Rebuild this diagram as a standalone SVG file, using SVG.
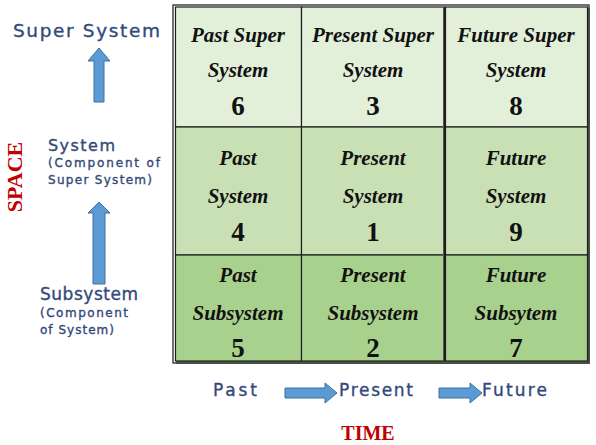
<svg xmlns="http://www.w3.org/2000/svg" width="596" height="445" viewBox="0 0 596 445">
<style>
.cell{stroke:#1e1e1e;stroke-width:1.2}
.r1{fill:#e2efd9}
.r2{fill:#c8e0b4}
.r3{fill:#a9d18e}
.sc{font-family:"Liberation Serif",serif;font-style:italic;font-weight:bold;font-size:21px;fill:#111;text-anchor:middle}
.num{font-family:"Liberation Serif",serif;font-weight:bold;font-size:27px;fill:#111;text-anchor:middle}
.lab{font-family:"DejaVu Sans","Liberation Sans",sans-serif;fill:#33497a;stroke:#33497a;stroke-width:0.35}
.red{font-family:"Liberation Serif",serif;font-weight:bold;fill:#c00000}
.arr{fill:#5b9bd5;stroke:#41719c;stroke-width:1}
</style>
<rect x="0" y="0" width="596" height="445" fill="#ffffff"/>
<rect x="176" y="8" width="414" height="356" fill="#5a6b4e"/>
<rect x="173" y="5" width="416" height="358" fill="none" stroke="#444" stroke-width="1.5"/>
<g id="cell-6"><rect class="cell r1" x="175.5" y="7" width="126" height="120"/><text class="sc" x="238" y="42">Past Super</text><text class="sc" x="238" y="77">System</text><text class="num" x="238" y="115">6</text></g>
<g id="cell-3"><rect class="cell r1" x="301.5" y="7" width="143" height="120"/><text class="sc" x="373" y="42">Present Super</text><text class="sc" x="373" y="77">System</text><text class="num" x="373" y="115">3</text></g>
<g id="cell-8"><rect class="cell r1" x="445.5" y="7" width="142" height="120"/><text class="sc" x="516" y="42">Future Super</text><text class="sc" x="516" y="77">System</text><text class="num" x="516" y="115">8</text></g>
<g id="cell-4"><rect class="cell r2" x="175.5" y="127" width="126" height="128"/><text class="sc" x="238" y="165">Past</text><text class="sc" x="238" y="203">System</text><text class="num" x="238" y="241">4</text></g>
<g id="cell-1"><rect class="cell r2" x="301.5" y="127" width="143" height="128"/><text class="sc" x="373" y="165">Present</text><text class="sc" x="373" y="203">System</text><text class="num" x="373" y="241">1</text></g>
<g id="cell-9"><rect class="cell r2" x="445.5" y="127" width="142" height="128"/><text class="sc" x="516" y="165">Future</text><text class="sc" x="516" y="203">System</text><text class="num" x="516" y="241">9</text></g>
<g id="cell-5"><rect class="cell r3" x="175.5" y="255" width="126" height="106"/><text class="sc" x="238" y="282">Past</text><text class="sc" x="238" y="320">Subsystem</text><text class="num" x="238" y="357">5</text></g>
<g id="cell-2"><rect class="cell r3" x="301.5" y="255" width="143" height="106"/><text class="sc" x="373" y="282">Present</text><text class="sc" x="373" y="320">Subsystem</text><text class="num" x="373" y="357">2</text></g>
<g id="cell-7"><rect class="cell r3" x="445.5" y="255" width="142" height="106"/><text class="sc" x="516" y="282">Future</text><text class="sc" x="516" y="320">Subsytem</text><text class="num" x="516" y="357">7</text></g>
<line x1="443.5" y1="7" x2="443.5" y2="361" stroke="#555" stroke-width="1"/>
<g id="super-system"><text class="lab" x="13" y="37" font-size="18.5" textLength="147">Super  System</text></g>
<g id="system"><text class="lab" x="48" y="151" font-size="16" textLength="67">System</text><text class="lab" x="48" y="167" font-size="12" textLength="112" stroke-width="0.2">(Component of</text><text class="lab" x="48" y="184" font-size="12" textLength="104" stroke-width="0.2">Super System)</text></g>
<g id="subsystem"><text class="lab" x="40" y="300" font-size="17" textLength="98">Subsystem</text><text class="lab" x="40" y="317" font-size="12" textLength="88" stroke-width="0.2">(Component</text><text class="lab" x="40" y="334" font-size="12" textLength="74" stroke-width="0.2">of System)</text></g>
<g id="space"><text class="red" font-size="22" text-anchor="middle" transform="translate(22,177) rotate(-90)">SPACE</text></g>
<g id="past"><text class="lab" x="213" y="396" font-size="17" textLength="44">Past</text></g>
<g id="present"><text class="lab" x="339" y="396" font-size="17" textLength="74">Present</text></g>
<g id="future"><text class="lab" x="482" y="396" font-size="17" textLength="65">Future</text></g>
<g id="time"><text class="red" x="368" y="440" font-size="20" text-anchor="middle">TIME</text></g>
<g id="connectors">
<polygon class="arr" points="94,102 94,61 88,61 99,48 110,61 104,61 104,102"/>
<polygon class="arr" points="93,284 93,213 88,213 99,202 110,213 105,213 105,284"/>
<polygon class="arr" points="285,388 325,388 325,383 337,393 325,403 325,398 285,398"/>
<polygon class="arr" points="439,388 470,388 470,383 482,393 470,403 470,398 439,398"/>
</g>
</svg>
